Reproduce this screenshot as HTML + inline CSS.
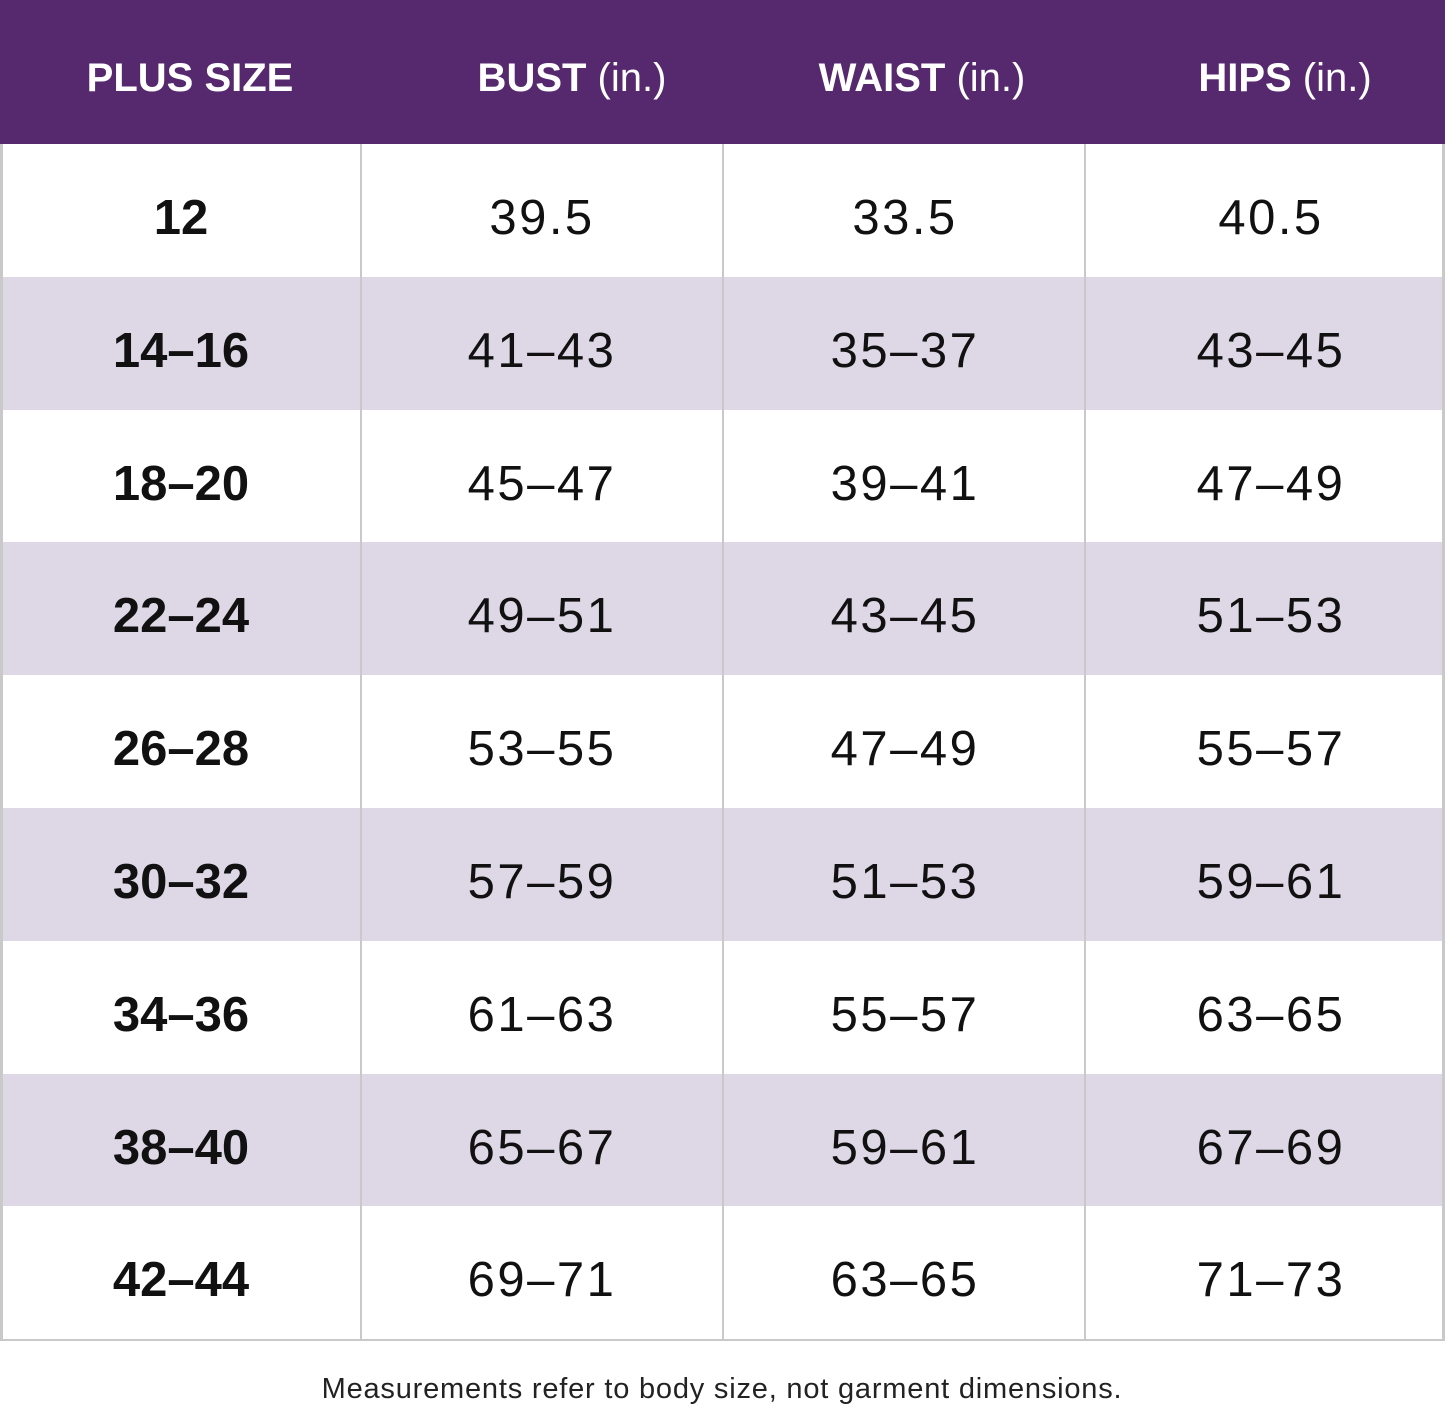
<!DOCTYPE html>
<html><head><style>
body{margin:0;width:1445px;height:1413px;background:#fff;position:relative;overflow:hidden;font-family:"Liberation Sans",sans-serif}
.h{position:absolute;top:0;left:0;width:1445px;height:144px;background:#56296f}
.ht{position:absolute;top:56px;color:#fff;font-size:40px;font-weight:bold;white-space:nowrap;transform:translateX(-50%)}
.ht span{font-weight:normal}
.row{position:absolute;left:2px;width:1441px}
.c{position:absolute;font-size:49px;color:#111;transform:translateX(-50%);white-space:nowrap;letter-spacing:2.5px}
.b{font-weight:bold;letter-spacing:0}
.v{position:absolute;top:144px;width:2px;height:1197px;background:#c9c9c9}
</style></head><body>
<div class="h"></div>
<div class="ht" style="left:190px">PLUS SIZE</div>
<div class="ht" style="left:572px">BUST <span>(in.)</span></div>
<div class="ht" style="left:922px">WAIST <span>(in.)</span></div>
<div class="ht" style="left:1285px">HIPS <span>(in.)</span></div>
<div id="rows"></div>
<div class="v" style="left:0;width:3px"></div>
<div class="v" style="left:360px"></div>
<div class="v" style="left:722px"></div>
<div class="v" style="left:1084px"></div>
<div class="v" style="left:1442px;width:3px"></div>
<div style="position:absolute;left:0;top:1339px;width:1445px;height:2px;background:#c9c9c9"></div>
<div style="position:absolute;top:1373px;left:722px;transform:translateX(-50%);font-size:29px;letter-spacing:0.8px;color:#222;white-space:nowrap">Measurements refer to body size, not garment dimensions.</div>
<script>
var d=[["12","39.5","33.5","40.5"],["14–16","41–43","35–37","43–45"],["18–20","45–47","39–41","47–49"],["22–24","49–51","43–45","51–53"],["26–28","53–55","47–49","55–57"],["30–32","57–59","51–53","59–61"],["34–36","61–63","55–57","63–65"],["38–40","65–67","59–61","67–69"],["42–44","69–71","63–65","71–73"]];
var xs=[181,542,905,1271],h="";
for(var i=0;i<9;i++){var t=144+i*132.8;
h+='<div class="row" style="top:'+t+'px;height:133px;background:'+(i%2?'#ded7e6':'#fff')+'"></div>';
for(var j=0;j<4;j++)h+='<div class="c'+(j==0?' b':'')+'" style="left:'+xs[j]+'px;top:'+(t+46)+'px">'+d[i][j]+'</div>';}
document.getElementById('rows').innerHTML=h;
</script>
</body></html>
